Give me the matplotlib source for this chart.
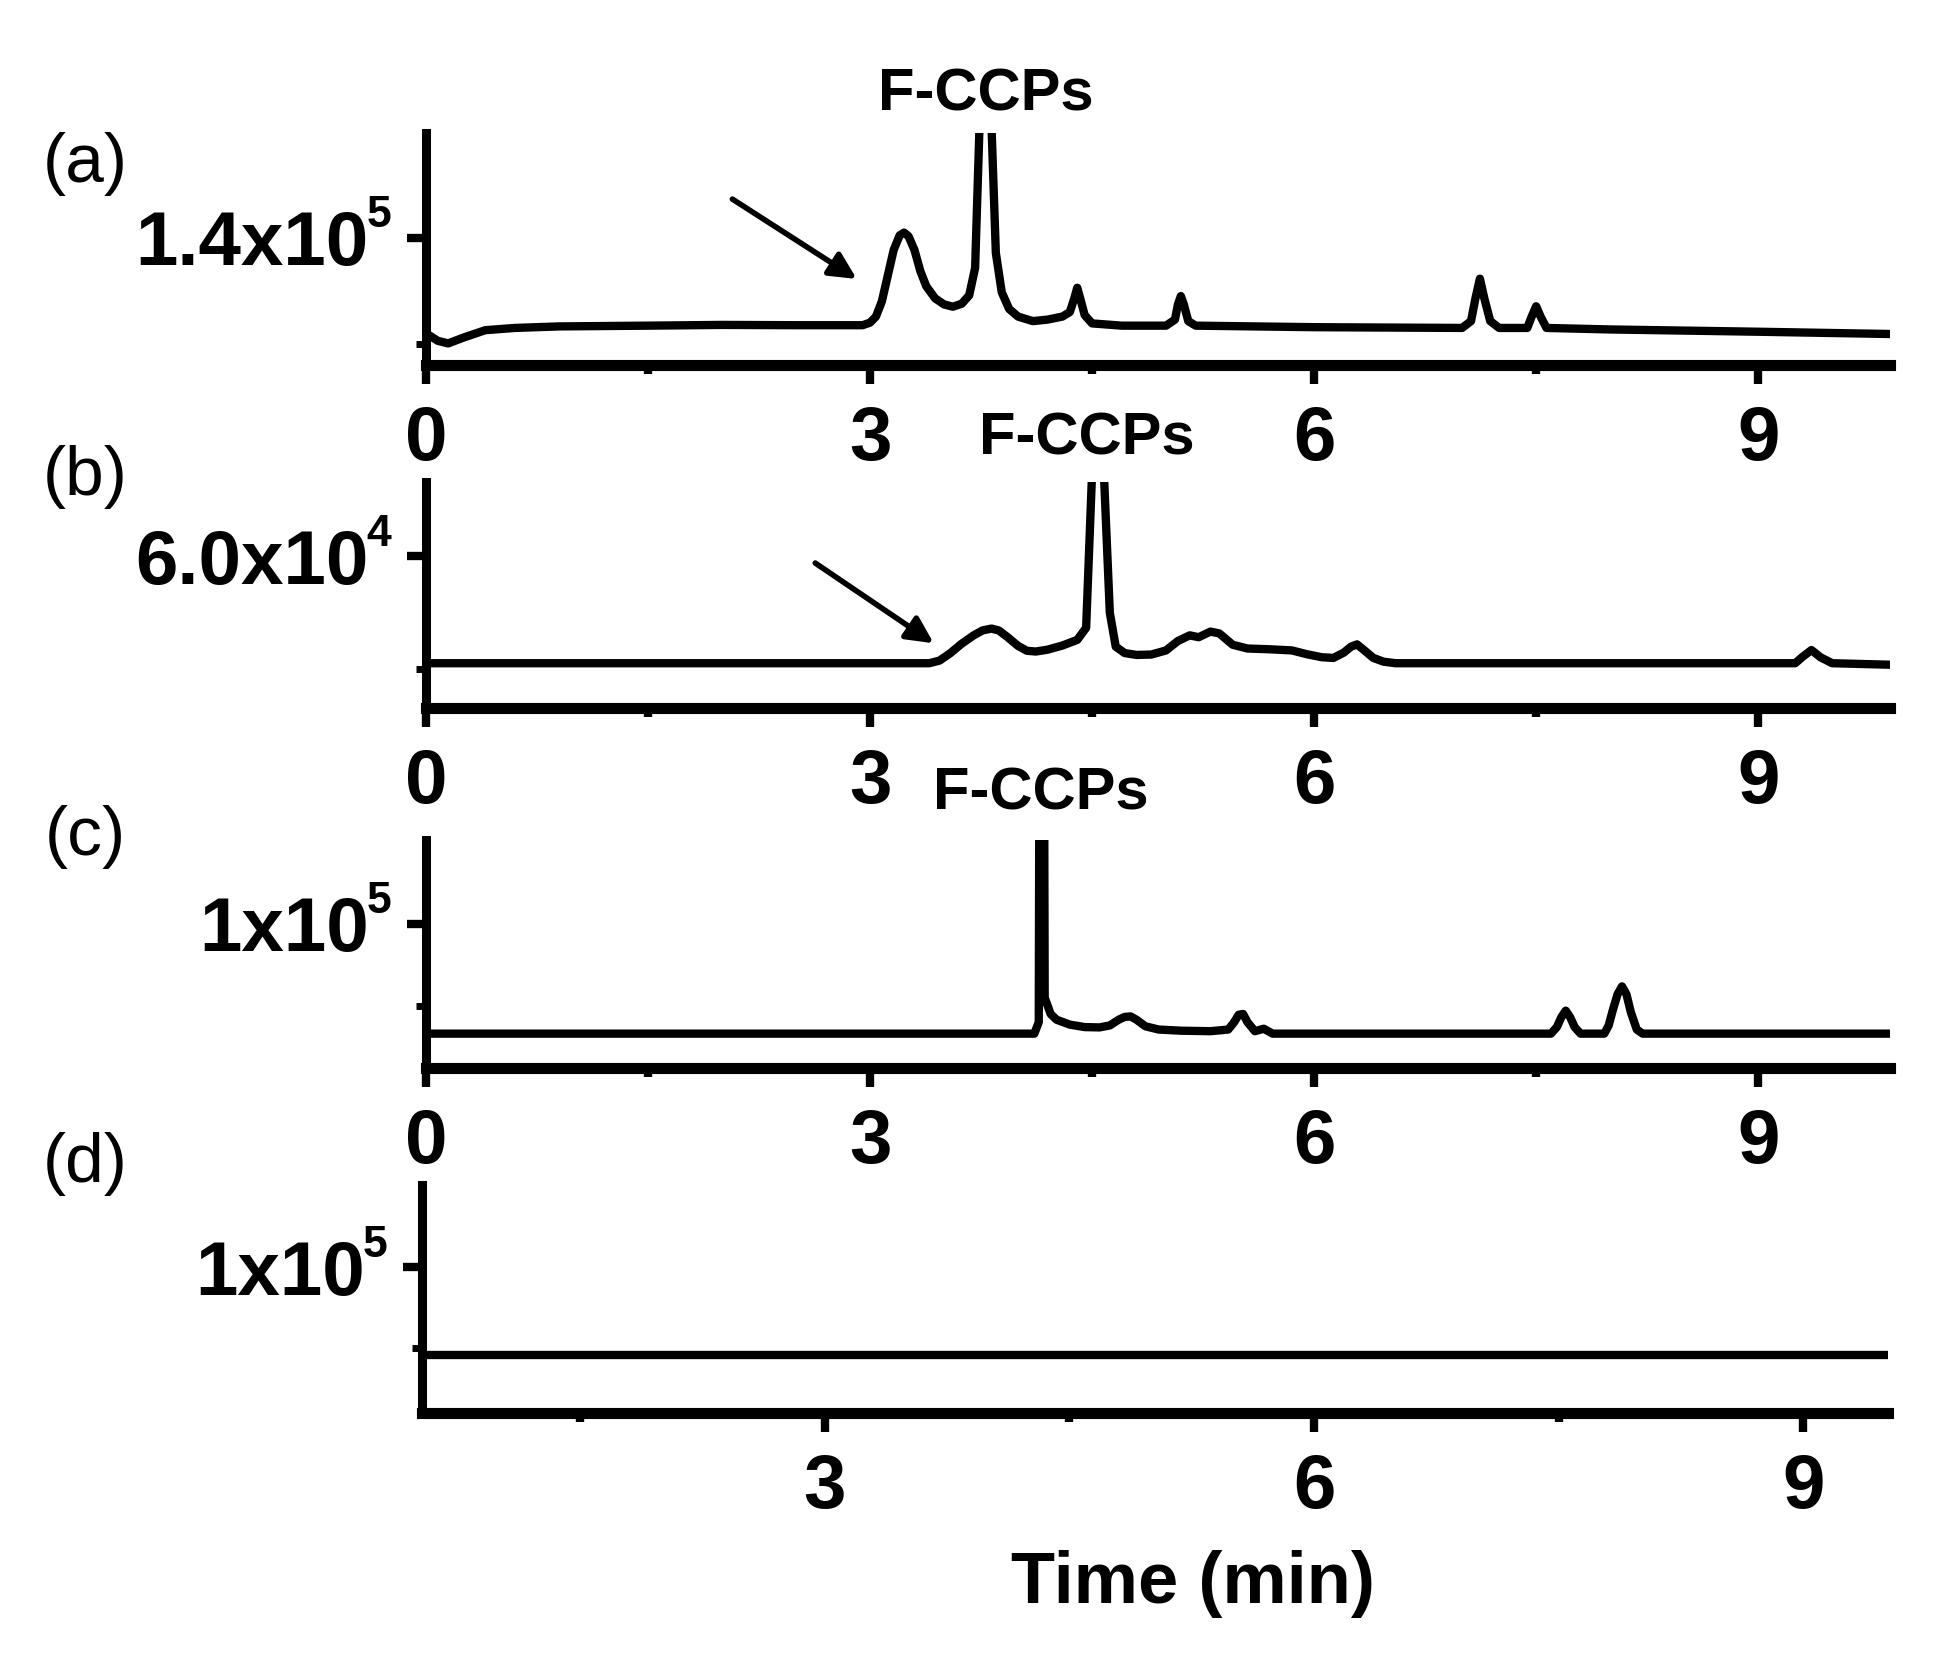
import matplotlib
matplotlib.use("Agg")
import matplotlib.pyplot as plt

plt.rcParams['font.family'] = ['Liberation Sans', 'DejaVu Sans']

# ---- data (time in min, signal in counts) ----
t_a = [0.00, 0.08, 0.15, 0.25, 0.40, 0.60, 0.90, 1.50, 2.00, 2.50, 2.95, 3.00,
       3.04, 3.08, 3.12, 3.16, 3.20, 3.23, 3.26, 3.30, 3.34, 3.38, 3.44, 3.50,
       3.56, 3.62, 3.67, 3.71, 3.745, 3.78, 3.815, 3.85, 3.89, 3.94, 4.00, 4.10,
       4.20, 4.30, 4.35, 4.38, 4.40, 4.42, 4.45, 4.50, 4.70, 5.00, 5.06, 5.08,
       5.10, 5.12, 5.15, 5.20, 6.00, 7.00, 7.06, 7.09, 7.12, 7.15, 7.19, 7.25,
       7.44, 7.47, 7.50, 7.53, 7.57, 8.00, 9.00, 9.89]
y_a = [77000, 72000, 70300, 74000, 79000, 80500, 81500, 82000, 82500, 82300, 82300, 84000,
       88000, 98000, 115000, 132000, 141500, 143400, 141000, 132000, 118000, 108000, 100000, 96000,
       94500, 96500, 102000, 120000, 230000, 400000, 230000, 130000, 104000, 93000, 88000, 85000,
       86000, 88000, 91000, 100000, 107000, 100000, 89000, 83500, 82000, 82000, 86000, 96000,
       101500, 96000, 85000, 82000, 81000, 80500, 85000, 100000, 113000, 100000, 85000, 80500,
       80500, 88000, 94800, 88000, 80500, 79500, 78000, 76500]

t_b = [0.00, 3.40, 3.47, 3.54, 3.62, 3.70, 3.76, 3.82, 3.87, 3.93, 4.00, 4.06,
       4.12, 4.20, 4.30, 4.40, 4.46, 4.50, 4.54, 4.58, 4.62, 4.66, 4.72, 4.80,
       4.90, 5.00, 5.08, 5.16, 5.22, 5.30, 5.36, 5.45, 5.55, 5.70, 5.85, 5.95,
       6.05, 6.13, 6.20, 6.25, 6.29, 6.34, 6.40, 6.47, 6.55, 9.25, 9.30, 9.36,
       9.42, 9.50, 9.89]
y_b = [31600, 31600, 32300, 34200, 36800, 39000, 40300, 40800, 40300, 38500, 36200, 34900,
       34700, 35200, 36300, 37800, 41000, 82000, 200000, 82000, 45000, 36000, 34300, 33800,
       33900, 35000, 37500, 39000, 38500, 40000, 39500, 36500, 35500, 35300, 35000, 34000,
       33200, 33000, 34400, 36000, 36600, 35000, 33000, 32000, 31600, 31600, 33300, 35100,
       33200, 31600, 31200]

t_c = [0.00, 4.11, 4.14, 4.16, 4.18, 4.22, 4.26, 4.35, 4.45, 4.55, 4.62, 4.68,
       4.72, 4.76, 4.80, 4.86, 4.95, 5.10, 5.30, 5.42, 5.46, 5.49, 5.52, 5.55,
       5.60, 5.66, 5.72, 7.60, 7.64, 7.67, 7.70, 7.73, 7.76, 7.80, 7.96, 7.99,
       8.02, 8.05, 8.08, 8.11, 8.14, 8.18, 8.22, 9.89]
y_c = [33000, 33000, 40000, 800000, 55000, 45000, 41500, 38500, 37000, 36800, 38000, 41500,
       43200, 43500, 41500, 37500, 35500, 34800, 34500, 35500, 40000, 44500, 45000, 40000,
       34500, 36000, 33000, 33000, 37000, 43000, 47000, 43000, 37000, 33000, 33000, 38000,
       48000, 57000, 61800, 57000, 46000, 35500, 33000, 33000]

t_d = [0.40, 3.00, 6.00, 9.60]
y_d = [46000, 46000, 46000, 46000]

panel_tags = ["(a)", "(b)", "(c)", "(d)"]
ytick_major = [1.4e5, 6.0e4, 1e5, 1e5]
ytick_minor = [7e4, 3e4, 5e4, 5e4]
ytick_base = ["1.4x10", "6.0x10", "1x10", "1x10"]
ytick_exp = ["5", "4", "5", "5"]
ylims = [(5.6e4, 2.09e5), (1.97e4, 7.97e4), (1.21e4, 1.51e5), (0.98e4, 1.51e5)]

traces = [(t_a, y_a), (t_b, y_b), (t_c, y_c), (t_d, y_d)]

fig = plt.figure(figsize=(19.52, 16.64), dpi=100)

# axes boxes in figure fractions (left, bottom, width, height)
boxes = [(0.2182, 0.7806, 0.750, 0.1394),
         (0.2182, 0.5745, 0.750, 0.1358),
         (0.2182, 0.3582, 0.750, 0.1370),
         (0.2162, 0.1508, 0.751, 0.1370)]
tag_y = [0.9014, 0.7133, 0.4970, 0.3005]

axes = []
for i in range(4):
    ax = fig.add_axes(boxes[i])
    t, y = traces[i]
    ax.plot(t, y, color="black", lw=6, solid_joinstyle="round")
    ax.set_ylim(*ylims[i])
    if i < 3:
        ax.set_xlim(0, 9.89)
        ax.set_xticks([0, 3, 6, 9])
    else:
        ax.set_xlim(0.53, 9.52)
        ax.set_xticks([3, 6, 9])
    ax.set_xticks([1.5, 4.5, 7.5], minor=True)
    ax.set_yticks([ytick_major[i]])
    ax.set_yticklabels([ytick_base[i]])
    ax.set_yticks([ytick_minor[i]], minor=True)
    # exponent drawn as a small raised text next to the tick label
    ax.annotate(ytick_exp[i], xy=(0, ytick_major[i]), xycoords=("axes fraction", "data"),
                xytext=(-25, 7.5), textcoords="offset points", ha="right", va="baseline",
                fontsize=32, fontweight="bold", annotation_clip=False)

    for s in ["top", "right"]:
        ax.spines[s].set_visible(False)
    ax.spines["left"].set_linewidth(6.5)
    ax.spines["bottom"].set_linewidth(8)
    ax.tick_params(axis="x", which="major", length=13.5, width=6, pad=15,
                   labelsize=55)
    ax.tick_params(axis="x", which="minor", length=6.5, width=6)
    ax.tick_params(axis="y", which="major", length=14, width=6, pad=27,
                   labelsize=55)
    ax.tick_params(axis="y", which="minor", length=7, width=5)
    for lab in ax.get_xticklabels() + ax.get_yticklabels():
        lab.set_fontweight("bold")
    fig.text(0.0435, tag_y[i], panel_tags[i], fontsize=50, ha="center", va="center")
    axes.append(ax)

# peak labels
fig.text(0.505, 0.943, "F-CCPs", fontsize=43, fontweight="bold", ha="center", va="center")
fig.text(0.557, 0.736, "F-CCPs", fontsize=43, fontweight="bold", ha="center", va="center")
fig.text(0.533, 0.523, "F-CCPs", fontsize=43, fontweight="bold", ha="center", va="center")

# arrows pointing at the shoulder peaks
axes[0].annotate("", xy=(2.91, 112800), xytext=(2.07, 165500),
                 arrowprops=dict(arrowstyle="-|>", lw=4, color="black",
                                 mutation_scale=40, shrinkA=0, shrinkB=0))
axes[1].annotate("", xy=(3.43, 36900), xytext=(2.63, 58200),
                 arrowprops=dict(arrowstyle="-|>", lw=4, color="black",
                                 mutation_scale=40, shrinkA=0, shrinkB=0))

fig.text(0.611, 0.048, "Time (min)", fontsize=52, fontweight="bold", ha="center", va="center")

fig.savefig("out.png", dpi=100)
